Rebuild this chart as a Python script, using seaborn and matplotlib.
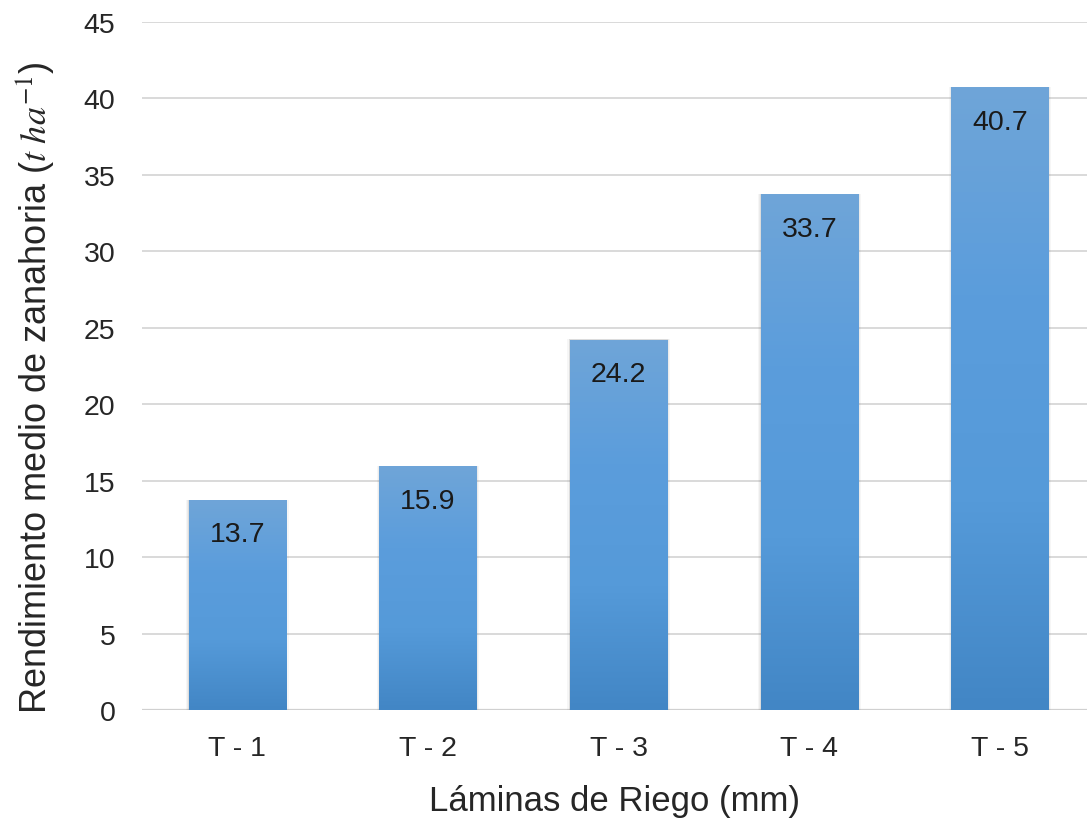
import numpy as np
import pandas as pd
import matplotlib
matplotlib.use("Agg")
import matplotlib.pyplot as plt
from matplotlib.colors import LinearSegmentedColormap
import seaborn as sns

# Mean carrot yield per irrigation depth treatment
tratamientos = ["T - 1", "T - 2", "T - 3", "T - 4", "T - 5"]
rendimiento = [13.7, 15.9, 24.2, 33.7, 40.7]
yticks = [0, 5, 10, 15, 20, 25, 30, 35, 40, 45]

df = pd.DataFrame({"tratamiento": tratamientos, "rendimiento": rendimiento})

sns.set_theme(style="white")
plt.rcParams["font.family"] = ["Liberation Sans", "DejaVu Sans"]
plt.rcParams["mathtext.fontset"] = "stix"

fig = plt.figure(figsize=(10.87, 8.2), dpi=100)
ax = fig.add_axes([0.1306, 0.1329, 0.8694, 0.8390])

sns.barplot(data=df, x="tratamiento", y="rendimiento", color="#5b9bd5",
            width=0.51, ax=ax, zorder=3, linewidth=0)

# vertical gradient fill, lighter at the top of each bar
grad = LinearSegmentedColormap.from_list(
    "barfill", ["#4286c5", "#559ad9", "#5b9ddc", "#6fa5d8"])
gimg = np.linspace(0, 1, 256).reshape(-1, 1)
for p in list(ax.patches):
    x0, w, h = p.get_x(), p.get_width(), p.get_height()
    # soft drop shadow around the bar
    for k, a in [(0.014, 0.05), (0.008, 0.07), (0.004, 0.10)]:
        ax.add_patch(plt.Rectangle((x0 - k, 0), w + 2 * k, h + 0.06,
                                   facecolor="#606060", alpha=a,
                                   linewidth=0, zorder=2.5))
    ax.imshow(gimg, cmap=grad, origin="lower", aspect="auto",
              extent=[x0, x0 + w, 0, h], zorder=3.5)
    p.set_alpha(0)

for i, v in enumerate(rendimiento):
    ax.annotate(f"{v:.1f}", xy=(i, v), xytext=(0, -15),
                textcoords="offset points", ha="center", va="top",
                fontsize=20.5, color="#1a1a1a", zorder=5)

ax.set_xlim(-0.5, 4.456)
ax.set_ylim(0, 45)
ax.set_yticks(yticks)
ax.yaxis.grid(True, color="#d9d9d9", linewidth=1.4, zorder=0)
ax.xaxis.grid(False)
for s in ax.spines.values():
    s.set_visible(False)
ax.axhline(0, color="#d0d0d0", linewidth=1.6, zorder=1)

ax.tick_params(axis="y", length=0, pad=19, labelsize=20.5, labelcolor="#262626")
ax.tick_params(axis="x", length=0, pad=18, labelsize=20.5, labelcolor="#262626")

ax.set_xlabel("Láminas de Riego (mm)", fontsize=25, color="#262626", labelpad=16.5)
ax.set_ylabel(r"Rendimiento medio de zanahoria ($t\ ha^{-1}$)", fontsize=26,
              color="#262626", labelpad=20)
ax.yaxis.label.set_y(0.47)

fig.savefig("out.png", dpi=100)
